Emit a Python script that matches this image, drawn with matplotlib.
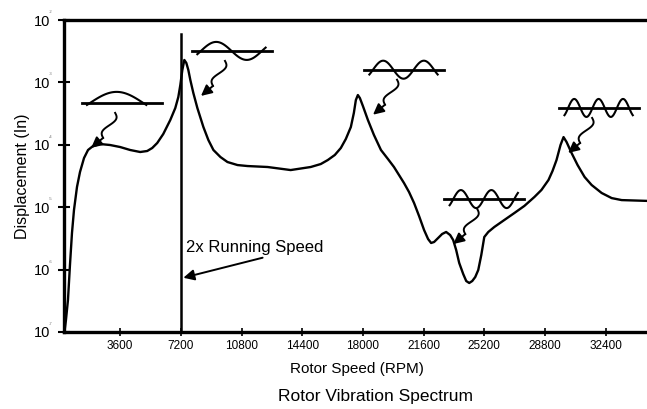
import numpy as np
import matplotlib
matplotlib.use("Agg")
import matplotlib.pyplot as plt
import matplotlib.transforms as mtransforms
from matplotlib.ticker import FixedLocator, NullLocator, FuncFormatter

plt.rcParams['font.family'] = ['Liberation Sans', 'DejaVu Sans']

# ---- Response curve ----
rpm = [327, 387, 506, 625, 744, 863, 1041, 1220, 1458, 1696, 1993, 2410, 3005,
       3600, 4195, 4790, 5206, 5504, 5801, 6158, 6575, 6872, 7051, 7170, 7289,
       7408, 7527, 7646, 7765, 7943, 8181, 8538, 8836, 9133, 9550, 9966, 10561,
       11156, 12346, 13714, 14905, 15500, 15916, 16333, 16690, 16987, 17285,
       17463, 17582, 17701, 17820, 17999, 18296, 18653, 19070, 19486, 19843,
       20141, 20438, 20736, 21033, 21331, 21628, 21866, 22045, 22223, 22461,
       22699, 22937, 23175, 23354, 23532, 23711, 23949, 24128, 24306, 24485,
       24663, 24842, 25021, 25199, 25437, 25794, 26389, 26984, 27579, 28174,
       28590, 29007, 29245, 29483, 29721, 29900, 30079, 30376, 30733, 31149,
       31566, 32161, 32756, 33351, 34958]
disp = [1.16e-7, 1.56e-7, 3.26e-7, 1.19e-6, 3.86e-6, 9.02e-6, 2.11e-5, 3.67e-5,
        6.14e-5, 8.26e-5, 9.57e-5, 1.03e-4, 9.93e-5, 9.22e-5, 8.26e-5, 7.67e-5,
        7.96e-5, 8.89e-5, 1.07e-4, 1.49e-4, 2.50e-4, 3.89e-4, 5.83e-4, 9.08e-4,
        1.58e-3, 2.29e-3, 2.05e-3, 1.58e-3, 1.09e-3, 6.76e-4, 3.89e-4, 1.93e-4,
        1.19e-4, 8.26e-5, 6.37e-5, 5.30e-5, 4.74e-5, 4.57e-5, 4.41e-5, 3.94e-5,
        4.41e-5, 4.92e-5, 5.70e-5, 6.87e-5, 8.89e-5, 1.24e-4, 1.93e-4, 3.24e-4,
        5.22e-4, 6.28e-4, 5.62e-4, 4.19e-4, 2.50e-4, 1.44e-4, 8.26e-5, 5.92e-5,
        4.41e-5, 3.28e-5, 2.44e-5, 1.75e-5, 1.17e-5, 7.22e-6, 4.31e-6, 3.09e-6,
        2.67e-6, 2.77e-6, 3.21e-6, 3.72e-6, 4.01e-6, 3.58e-6, 2.98e-6, 2.06e-6,
        1.28e-6, 8.50e-7, 6.56e-7, 6.10e-7, 6.56e-7, 7.60e-7, 9.86e-7, 1.71e-6,
        3.33e-6, 4.01e-6, 4.82e-6, 6.24e-6, 8.07e-6, 1.05e-5, 1.46e-5, 1.89e-5,
        2.73e-5, 3.80e-5, 5.70e-5, 9.93e-5, 1.33e-4, 1.11e-4, 7.40e-5, 4.74e-5,
        3.05e-5, 2.27e-5, 1.69e-5, 1.40e-5, 1.30e-5, 1.26e-5]

x_ticks = [3600, 7200, 10800, 14400, 18000, 21600, 25200, 28800, 32400]
y_ticks = [1e-7, 1e-6, 1e-5, 1e-4, 1e-3, 1e-2]
y_exps = ["-7", "-6", "-5", "-4", "-3", "-2"]

running_speed = 7200
running_top = 6.0e-3

# mode-shape icons: centre of the baseline (rpm, displacement), number of half waves
mode_rpm = [3719, 10234, 20438, 25198, 32011]
mode_disp = [4.7e-4, 3.2e-3, 1.6e-3, 1.35e-5, 3.9e-4]
mode_halfwaves = [1, 2, 3, 4, 5]

fig = plt.figure(figsize=(6.47, 4.09), dpi=100)
ax = fig.add_axes([0.0989, 0.1883, 0.905, 0.7627])

ax.plot(rpm, disp, color='black', lw=1.7, solid_joinstyle='round')
ax.plot([running_speed, running_speed], [1e-7, running_top], color='black', lw=1.8)

ax.set_yscale('log')
ax.set_xlim(270, 35000)
ax.set_ylim(1e-7, 1e-2)

ax.xaxis.set_major_locator(FixedLocator(x_ticks))
ax.yaxis.set_major_locator(FixedLocator(y_ticks))
ax.yaxis.set_minor_locator(NullLocator())
ax.yaxis.set_major_formatter(FuncFormatter(lambda v, p: "10"))
ax.tick_params(axis='x', direction='inout', length=6, width=1.2, pad=3, labelsize=8.5)
ax.tick_params(axis='y', direction='inout', length=8, width=1.5, pad=6, labelsize=10.5)

for s in ['left', 'bottom', 'top']:
    ax.spines[s].set_linewidth(2.4)
ax.spines['right'].set_visible(False)

# tiny exponents next to the "10" labels
blend = mtransforms.blended_transform_factory(ax.transAxes, ax.transData)
for v, e in zip(y_ticks, y_exps):
    ax.annotate(e, xy=(0, v), xycoords=blend, xytext=(-15, 8),
                textcoords='offset pixels', fontsize=3, color='0.45',
                ha='left', va='center', annotation_clip=False)

ax.set_xlabel("Rotor Speed (RPM)", fontsize=11, labelpad=7)
ax.set_ylabel("Displacement (In)", fontsize=11.5, labelpad=3)
fig.text(0.58, 0.03, "Rotor Vibration Spectrum", fontsize=12.5, ha='center', va='center')

# 2x running speed note
ax.text(7530, 2.3e-6, "2x Running Speed", fontsize=12, ha='left', va='center')
ax.annotate('', xy=(7350, 7.4e-7), xytext=(12050, 1.55e-6),
            arrowprops=dict(arrowstyle='-|>', color='black', lw=1.4, mutation_scale=16,
                            shrinkA=0, shrinkB=0))

# mode shape icons (offsets in pixels around each baseline centre)
px = mtransforms.Affine2D().scale(1 / fig.dpi) + fig.dpi_scale_trans
for mx, my, n in zip(mode_rpm, mode_disp, mode_halfwaves):
    trans = px + mtransforms.ScaledTranslation(mx, my, ax.transData)
    ax.plot([-40, 40], [0, 0], color='black', lw=2.0, transform=trans, clip_on=False)
    t = np.linspace(-0.06, 1.06, 120)
    if n == 1:
        x0, w, amp = -32, 53, 11
    else:
        x0, w, amp = -31, 61, 9
    ax.plot(x0 + w * t, amp * np.sin(n * np.pi * t), color='black', lw=1.5,
            transform=trans, clip_on=False)
    # little lightning-bolt squiggle leading to the arrow
    sx, sy = -7, -10
    s = np.linspace(0, 1, 40)
    zx = sx - 12 * s + 4 * np.sin(2 * np.pi * s)
    zy = sy - 25 * s
    ax.plot(zx, zy, color='black', lw=1.4, transform=trans, clip_on=False)
    ax.annotate('', xy=(sx - 24, sy - 35), xycoords=trans,
                xytext=(zx[-1], zy[-1]), textcoords=trans,
                arrowprops=dict(arrowstyle='-|>', color='black', lw=1.4,
                                mutation_scale=16, shrinkA=0, shrinkB=0))

fig.savefig("out.png", dpi=100)
